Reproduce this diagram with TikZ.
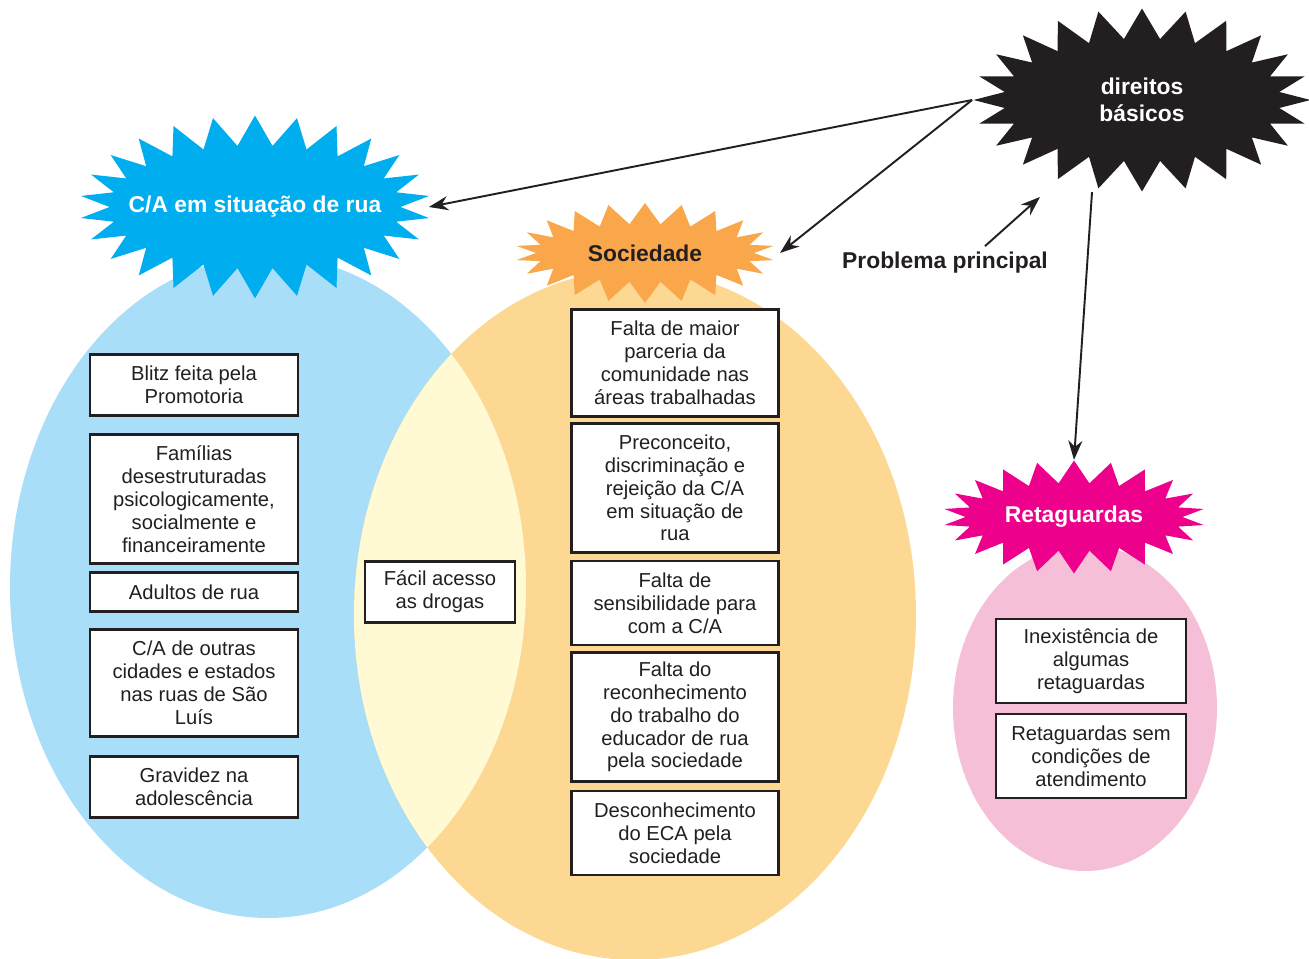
\documentclass[tikz,border=0pt]{standalone}
\usepackage{fontspec}
\setmainfont{Liberation Sans}
\usetikzlibrary{shapes,arrows.meta}

\definecolor{inkdark}{RGB}{35,31,32}
\definecolor{skyfill}{RGB}{168,222,248}
\definecolor{sandfill}{RGB}{253,216,146}
\definecolor{creamfill}{RGB}{255,249,212}
\definecolor{rosefill}{RGB}{246,191,216}
\definecolor{skystar}{RGB}{0,174,239}
\definecolor{sandstar}{RGB}{249,167,74}
\definecolor{rosestar}{RGB}{236,0,140}

\tikzstyle{box} = [draw=inkdark, fill=white, line width=1.2pt, rectangle,
    align=center, text=inkdark, inner sep=2pt,
    font=\fontsize{11.5}{13}\selectfont]
\tikzstyle{burst} = [starburst, starburst points=24, random starburst=0,
    align=center, inner sep=0pt, font=\fontsize{13}{15.4}\selectfont\bfseries]
\tikzstyle{link} = [draw=inkdark, line width=1.1pt,
    -{Stealth[length=11pt,width=8pt]}]

\begin{document}
\begin{tikzpicture}[x=0.02cm,y=-0.02cm]
\useasboundingbox (0,0) rectangle (1309,959);
\clip (0,0) rectangle (1309,959);

% ellipses
\fill[skyfill] (268,587) ellipse [x radius=258, y radius=331];
\fill[sandfill] (635,615) ellipse [x radius=281, y radius=345];
\begin{scope}
\clip (268,587) ellipse [x radius=258, y radius=331];
\fill[creamfill] (635,615) ellipse [x radius=281, y radius=345];
\end{scope}
\fill[rosefill] (1085,708) ellipse [x radius=132, y radius=163];

% starbursts
\node[burst, fill=skystar, text=white, starburst point height=0.6cm,
    inner xsep=-0.47cm, starburst points=26,
    minimum width=7cm, minimum height=3.66cm] (street) at (255,207)
    {C/A em situação de rua};
\node[burst, fill=sandstar, text=inkdark, starburst point height=0.42cm,
    starburst points=22, minimum width=5.2cm, minimum height=2cm]
    (society) at (645,253) {Sociedade};
\node[burst, fill=inkdark, text=white, starburst point height=0.6cm,
    minimum width=6.74cm, minimum height=3.66cm] (rights) at (1142,100)
    {direitos\\básicos};
\node[burst, fill=rosestar, text=white, starburst point height=0.45cm,
    starburst points=22, minimum width=5.24cm, minimum height=2.26cm]
    (backup) at (1074,517) {Retaguardas};

\node[font=\fontsize{13}{15}\selectfont\bfseries, text=inkdark] (problem)
    at (945,263) {Problema principal};
\coordinate (aim) at (1040,197);

% left column
\node[box, minimum width=4.16cm, minimum height=1.22cm] (blitz) at (194,385)
    {Blitz feita pela\\Promotoria};
\node[box, minimum width=4.16cm, minimum height=2.58cm] (family) at (194,499)
    {Famílias\\desestruturadas\\psicologicamente,\\socialmente e\\financeiramente};
\node[box, minimum width=4.16cm, minimum height=0.78cm] (adults) at (194,592)
    {Adultos de rua};
\node[box, minimum width=4.16cm, minimum height=2.14cm] (cities) at (194,683)
    {C/A de outras\\cidades e estados\\nas ruas de São\\Luís};
\node[box, minimum width=4.16cm, minimum height=1.22cm] (teen) at (194,787)
    {Gravidez na\\adolescência};

% overlap
\node[box, minimum width=3cm, minimum height=1.22cm] (drugs) at (440,592)
    {Fácil acesso\\as drogas};

% middle column
\node[box, minimum width=4.14cm, minimum height=2.14cm] (partner) at (675,363)
    {Falta de maior\\parceria da\\comunidade nas\\áreas trabalhadas};
\node[box, minimum width=4.14cm, minimum height=2.58cm] (prejudice) at (675,488)
    {Preconceito,\\discriminação e\\rejeição da C/A\\em situação de\\rua};
\node[box, minimum width=4.14cm, minimum height=1.68cm] (care) at (675,603)
    {Falta de\\sensibilidade para\\com a C/A};
\node[box, minimum width=4.14cm, minimum height=2.58cm] (educator) at (675,717)
    {Falta do\\reconhecimento\\do trabalho do\\educador de rua\\pela sociedade};
\node[box, minimum width=4.14cm, minimum height=1.68cm] (eca) at (675,833)
    {Desconhecimento\\do ECA pela\\sociedade};

% right column
\node[box, minimum width=3.8cm, minimum height=1.68cm] (missing) at (1091,661)
    {Inexistência de\\algumas\\retaguardas};
\node[box, minimum width=3.8cm, minimum height=1.68cm] (poor) at (1091,756)
    {Retaguardas sem\\condições de\\atendimento};

% arrows
\draw[link] (rights.west) -- ([xshift=0.55cm]street.east);
\draw[link] (rights.west) -- ([xshift=0.5cm]society.east);
\draw[link] ([xshift=0.8cm]problem.north) -- (aim);
\draw[link] ([xshift=-1cm]rights.south) -- (backup.north);

\end{tikzpicture}
\end{document}
